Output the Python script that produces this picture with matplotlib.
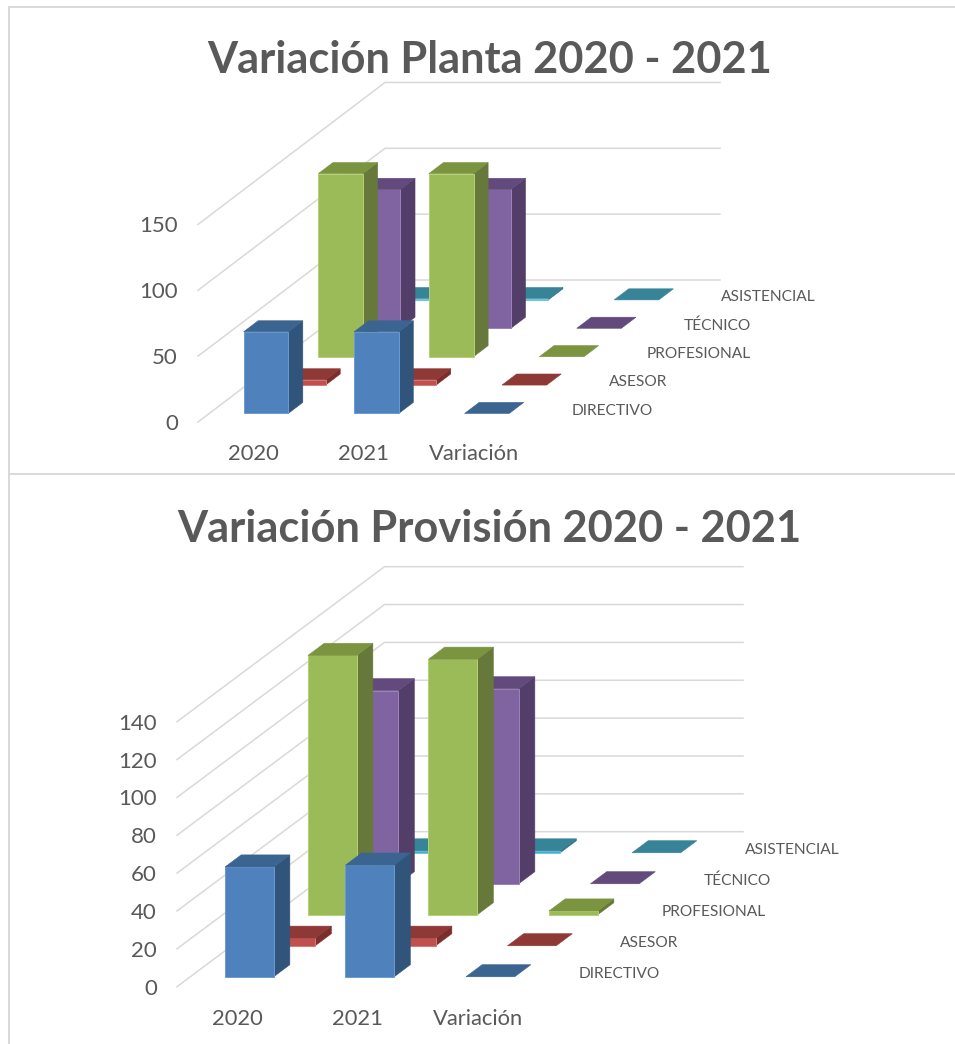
import matplotlib
matplotlib.use("Agg")
import matplotlib.pyplot as plt

plt.rcParams['font.family'] = ['Lato', 'DejaVu Sans']

W, H = 955, 1044
TEXT = '#595959'
GRID = '#d9d9d9'

categories = ['2020', '2021', 'Variación']
series_names = ['DIRECTIVO', 'ASESOR', 'PROFESIONAL', 'TÉCNICO', 'ASISTENCIAL']

planta_directivo = [62, 62, 0]
planta_asesor = [4, 4, 0]
planta_profesional = [139, 139, 0]
planta_tecnico = [105.5, 105.5, 0]
planta_asistencial = [1, 1, 0]
planta_ticks = [0, 50, 100, 150]

provision_directivo = [58, 59, 0]
provision_asesor = [4, 4, 0]
provision_profesional = [137, 135, 2]
provision_tecnico = [102, 103, 0]
provision_asistencial = [1, 1, 0]
provision_ticks = [0, 20, 40, 60, 80, 100, 120, 140]

# front, top, side, edge colours per series
FACES = [
    ('#4f81bd', '#3b6491', '#31547b', '#6c9ad2'),
    ('#c0504d', '#8f3937', '#7b2e2c', '#d87a77'),
    ('#9bbb59', '#7a9440', '#66793a', '#b4d273'),
    ('#8064a2', '#624b7c', '#533e6a', '#9a84b8'),
    ('#4bacc6', '#378398', '#2f7285', '#6cc6e0'),
]


def draw_chart(ax, title, title_y, ticks, values, x0, y0, unit, cat_step,
               slot_x, slot_y, bar_m, bar_w, depth0, depth_w,
               tick_right, cat_y, lab_dx, lab_dy, grid_right):
    def proj(cat, depth, val):
        return (x0 + cat_step * cat + slot_x * depth,
                y0 - unit * val - slot_y * depth)

    ncat, nser = len(categories), len(series_names)

    for t in ticks:
        a = proj(0, 0, t)
        b = proj(0, nser, t)
        ax.plot([a[0], b[0], grid_right], [a[1], b[1], b[1]], color=GRID, lw=1.1,
                solid_joinstyle='miter', zorder=1)
        ax.text(tick_right, a[1] + 2, str(t), ha='right', va='center',
                fontsize=16, color=TEXT)

    z = 2
    for s in range(nser - 1, -1, -1):
        front, top, side, edge = FACES[s]
        for c in range(ncat):
            v = values[s][c]
            l, r = c + bar_m, c + bar_m + bar_w
            d0, d1 = s + depth0, s + depth0 + depth_w
            pts_top = [proj(l, d0, v), proj(r, d0, v), proj(r, d1, v), proj(l, d1, v)]
            pts_side = [proj(r, d0, 0), proj(r, d1, 0), proj(r, d1, v), proj(r, d0, v)]
            pts_front = [proj(l, d0, 0), proj(r, d0, 0), proj(r, d0, v), proj(l, d0, v)]
            if v > 0:
                ax.fill(*zip(*pts_side), fc=side, ec=side, lw=0.4, zorder=z)
                ax.fill(*zip(*pts_front), fc=front, ec=edge, lw=0.7, zorder=z + 0.1)
            ax.fill(*zip(*pts_top), fc=top, ec=top, lw=0.4, zorder=z + 0.2)
        z += 1

    for c, name in enumerate(categories):
        ax.text(proj(c + 0.5, 0, 0)[0], cat_y, name, ha='center', va='center',
                fontsize=15.8, color=TEXT)

    for s, name in enumerate(series_names):
        p = proj(ncat, s + 0.5, 0)
        ax.text(p[0] + lab_dx, p[1] + lab_dy, name, ha='left', va='center',
                fontsize=11.2, color=TEXT)

    ax.text((W + 8) / 2 + 8, title_y, title, ha='center', va='center',
            fontsize=31.2, fontweight='bold', color=TEXT)


fig = plt.figure(figsize=(W / 100, H / 100), dpi=100)
ax = fig.add_axes([0, 0, 1, 1])
ax.set_xlim(0, W)
ax.set_ylim(H, 0)
ax.axis('off')

for xs, ys in [([8.5, 8.5], [H, 7]), ([8.5, W], [7, 7]), ([8.5, W], [474, 474])]:
    ax.plot(xs, ys, color=GRID, lw=1.4, zorder=0)

draw_chart(ax, 'Variación Planta 2020 - 2021', 60, planta_ticks,
           [planta_directivo, planta_asesor, planta_profesional,
            planta_tecnico, planta_asistencial],
           x0=198, y0=422, unit=1.317, cat_step=110.5,
           slot_x=37.4, slot_y=28.4, bar_m=0.311, bar_w=0.404,
           depth0=0.3, depth_w=0.39, tick_right=178, cat_y=454,
           lab_dx=23.5, lab_dy=3, grid_right=720)

draw_chart(ax, 'Variación Provisión 2020 - 2021', 529, provision_ticks,
           [provision_directivo, provision_asesor, provision_profesional,
            provision_tecnico, provision_asistencial],
           x0=177, y0=986.7, unit=1.893, cat_step=120.5,
           slot_x=41.5, slot_y=31, bar_m=0.288, bar_w=0.404,
           depth0=0.32, depth_w=0.39, tick_right=157, cat_y=1019,
           lab_dx=19.5, lab_dy=3, grid_right=743)

fig.savefig('out.png', dpi=100, facecolor='white')
